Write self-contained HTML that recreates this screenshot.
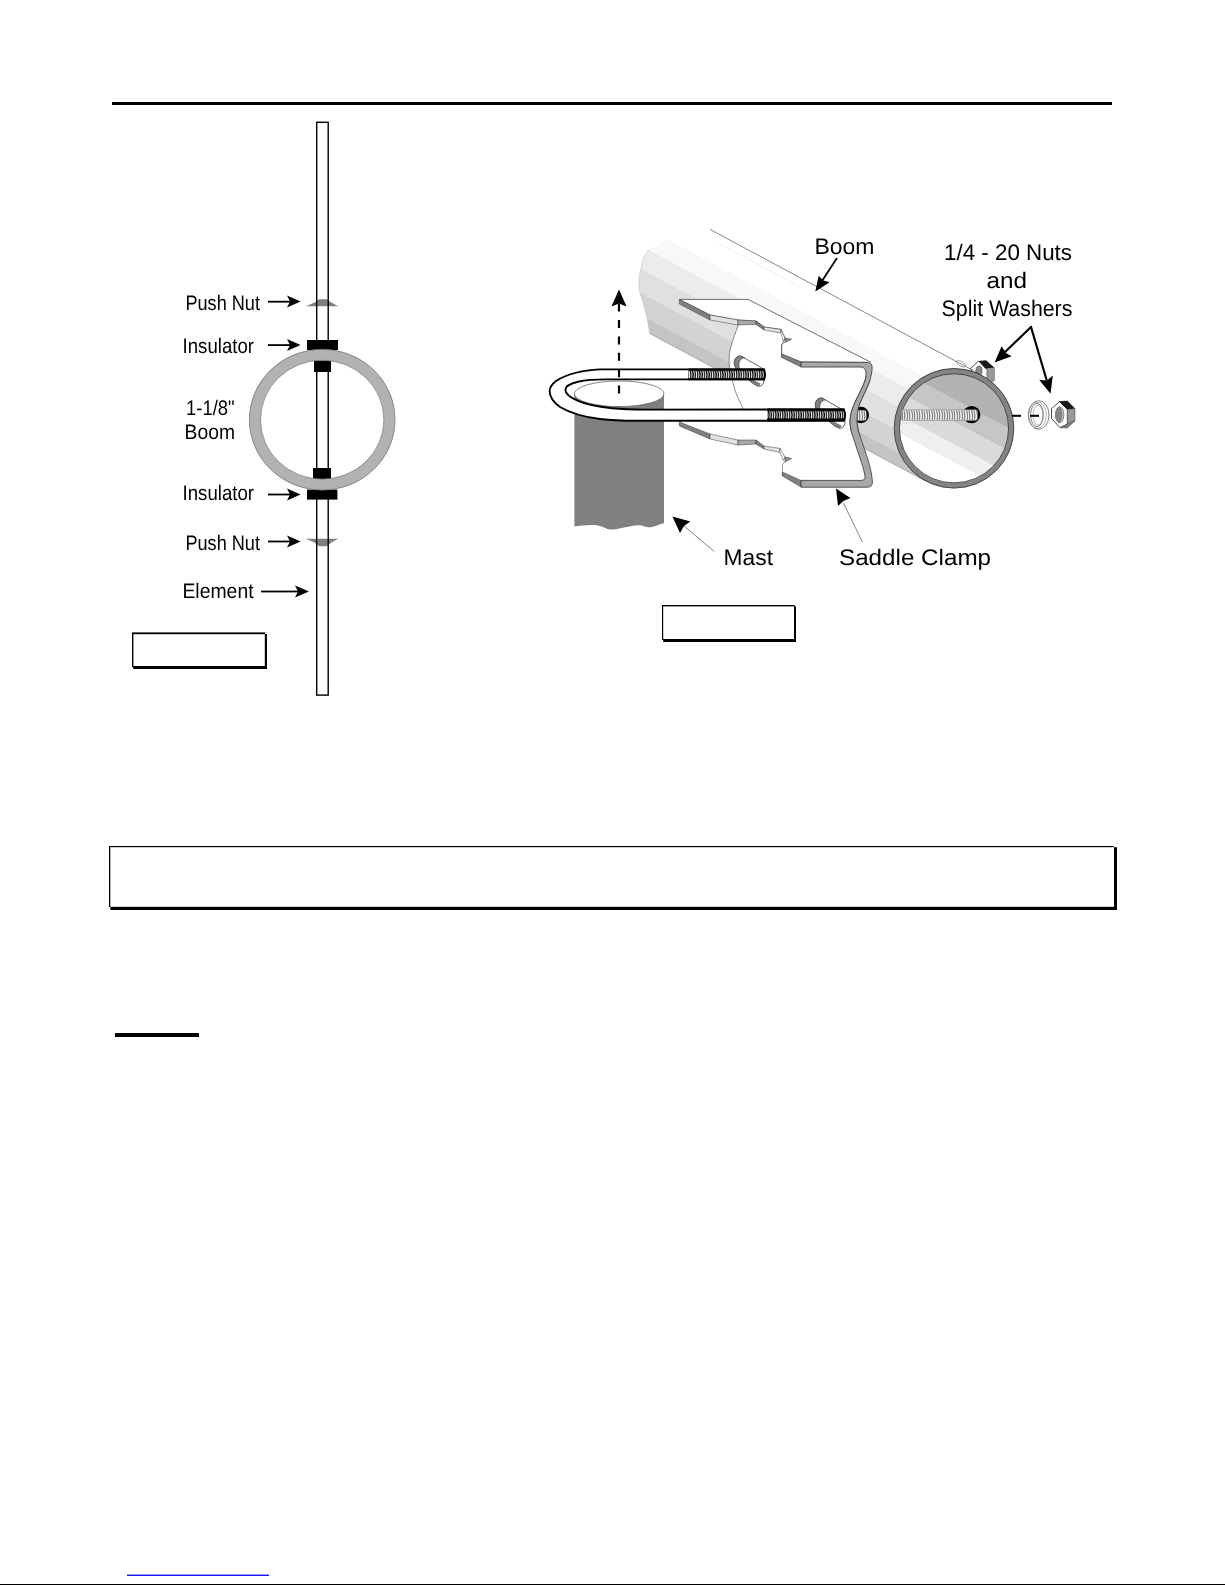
<!DOCTYPE html>
<html>
<head>
<meta charset="utf-8">
<title>Assembly</title>
<style>
html,body{margin:0;padding:0;background:#fff;}
body{width:1225px;height:1585px;position:relative;overflow:hidden;font-family:"Liberation Sans",sans-serif;}
svg{position:absolute;left:0;top:0;}
text{font-family:"Liberation Sans",sans-serif;fill:#000;text-rendering:geometricPrecision;filter:grayscale(1);}
</style>
</head>
<body>
<svg width="1225" height="1585" viewBox="0 0 1225 1585">
<defs>
<!--DEFS-BEGIN-->
<linearGradient id="boomgrad" gradientUnits="userSpaceOnUse" x1="925.7" y1="481.2" x2="982.3" y2="375.4">
<stop offset="0" stop-color="#c4c4c4"/><stop offset="0.1" stop-color="#c4c4c4"/>
<stop offset="0.1" stop-color="#d3d3d3"/><stop offset="0.263" stop-color="#d3d3d3"/>
<stop offset="0.263" stop-color="#e0e0e0"/><stop offset="0.44" stop-color="#e0e0e0"/>
<stop offset="0.44" stop-color="#ececec"/><stop offset="0.61" stop-color="#ececec"/>
<stop offset="0.61" stop-color="#f8f8f8"/><stop offset="0.7625" stop-color="#f8f8f8"/>
<stop offset="0.7625" stop-color="#ffffff"/><stop offset="1" stop-color="#ffffff"/>
</linearGradient>
<linearGradient id="ingrad" gradientUnits="userSpaceOnUse" x1="925.7" y1="481.2" x2="982.3" y2="375.4">
<stop offset="0" stop-color="#ffffff"/><stop offset="0.25" stop-color="#ffffff"/>
<stop offset="0.25" stop-color="#efefef"/><stop offset="0.383" stop-color="#efefef"/>
<stop offset="0.383" stop-color="#dadada"/><stop offset="0.55" stop-color="#dadada"/>
<stop offset="0.55" stop-color="#c6c6c6"/><stop offset="0.716" stop-color="#c6c6c6"/>
<stop offset="0.716" stop-color="#b2b2b2"/><stop offset="1" stop-color="#b2b2b2"/>
</linearGradient>
<pattern id="dthread" patternUnits="userSpaceOnUse" x="688.4" y="369.4" width="2.3" height="40.2">
<rect width="2.3" height="40.2" fill="#000"/>
<path d="M0.5,1.4 Q2.1,5 0.8,8.8" stroke="#fff" stroke-width="1" fill="none"/>
<path d="M0.5,41.6 Q2.1,45.6 0.8,49.8" stroke="#fff" stroke-width="1" fill="none"/>
</pattern>
<pattern id="lthread" patternUnits="userSpaceOnUse" x="901" y="409.6" width="2.5" height="100">
<rect width="2.5" height="100" fill="#fff"/>
<path d="M0.4,0.4 Q2.2,5.4 0.9,10.6" stroke="#555" stroke-width="1" fill="none"/>
</pattern>
<!--DEFS-END-->
</defs>
<!-- page rules -->
<rect x="112" y="102" width="1000" height="3" fill="#000"/>
<rect x="115" y="1033" width="84" height="4" fill="#000"/>
<rect x="127" y="1574.6" width="142" height="1.3" fill="#0000ff"/>
<rect x="0" y="1584" width="1225" height="1" fill="#000"/>
<!-- note box -->
<rect x="109" y="846" width="1008" height="64" fill="#000"/>
<rect x="110.3" y="847.2" width="1003.7" height="59.6" fill="#fff"/>
<rect x="1114" y="846" width="3" height="1.2" fill="#fff"/>
<rect x="109" y="907" width="1.3" height="3" fill="#fff"/>
<!-- figure boxes -->
<rect x="132" y="632.4" width="135" height="36.6" fill="#000"/>
<rect x="133.4" y="634.2" width="131.4" height="31.8" fill="#fff"/>
<rect x="265" y="632.4" width="2" height="1.6" fill="#fff"/>
<rect x="132" y="667" width="1.2" height="2" fill="#fff"/>
<rect x="662" y="605" width="134" height="37" fill="#000"/>
<rect x="663.2" y="606.4" width="130.8" height="32.6" fill="#fff"/>
<rect x="794.6" y="605" width="1.4" height="1.4" fill="#fff"/>
<rect x="662" y="640" width="1.2" height="2" fill="#fff"/>
<!--LEFT-BEGIN-->
<g id="leftfig">
<!-- push nuts -->
<path d="M305.6,306.2 L310,304.6 Q315.5,302.6 319,299.2 L327,299.2 Q330.5,302.6 335,304.6 L338.4,306.2 Z" fill="#808080"/>
<path d="M305.6,538.8 L310,540.4 Q315.5,542.4 319,546.2 L327,546.2 Q330.5,542.4 335,540.4 L338.4,538.8 Z" fill="#808080"/>
<!-- rod -->
<rect x="316.7" y="122.3" width="11.5" height="572.8" fill="none" stroke="#000" stroke-width="1.4"/>
<!-- insulators -->
<rect x="307" y="340" width="31" height="10" fill="#000"/>
<rect x="314" y="360.4" width="17" height="11.6" fill="#000"/>
<rect x="313" y="468" width="18" height="11.6" fill="#000"/>
<rect x="307" y="489.6" width="30.4" height="10" fill="#000"/>
<!-- ring -->
<ellipse cx="322.2" cy="419.7" rx="67.25" ry="64.9" fill="none" stroke="#b2b2b2" stroke-width="11.2"/>
<ellipse cx="322.2" cy="419.7" rx="72.8" ry="70.3" fill="none" stroke="#707070" stroke-width="0.7"/>
<ellipse cx="322.2" cy="419.7" rx="61.7" ry="59.5" fill="none" stroke="#707070" stroke-width="0.7"/>
<!-- arrows -->
<g fill="#000" stroke="none">
<path id="ah" d="M300.6,301.6 L287,295.6 L290,301.6 L287,307.6 Z"/>
<rect x="268" y="300.8" width="22" height="1.8"/>
<path d="M300.6,345 L287,339 L290,345 L287,351 Z"/>
<rect x="268" y="344.2" width="22" height="1.8"/>
<path d="M300.6,494.4 L287,488.4 L290,494.4 L287,500.4 Z"/>
<rect x="268" y="493.6" width="22" height="1.8"/>
<path d="M300.6,541.4 L287,535.4 L290,541.4 L287,547.4 Z"/>
<rect x="268" y="540.6" width="22" height="1.8"/>
<path d="M309,591.4 L295,585.4 L298,591.4 L295,597.4 Z"/>
<rect x="261" y="590.6" width="37" height="1.8"/>
</g>
<!-- labels -->
<g font-size="21">
<text x="185.4" y="310" textLength="74.6" lengthAdjust="spacingAndGlyphs">Push Nut</text>
<text x="182.6" y="352.6" textLength="71.4" lengthAdjust="spacingAndGlyphs">Insulator</text>
<text x="186" y="415" textLength="48.6" lengthAdjust="spacingAndGlyphs">1-1/8"</text>
<text x="184.6" y="439" textLength="50.4" lengthAdjust="spacingAndGlyphs">Boom</text>
<text x="182.6" y="499.6" textLength="71.4" lengthAdjust="spacingAndGlyphs">Insulator</text>
<text x="185.4" y="550" textLength="74.6" lengthAdjust="spacingAndGlyphs">Push Nut</text>
<text x="182.4" y="598" textLength="71.2" lengthAdjust="spacingAndGlyphs">Element</text>
</g>
</g>
<!--LEFT-END-->
<!--RIGHT-BEGIN-->
<g id="rightfig">
<!-- back nut (behind boom) -->
<g id="backnut">
<path d="M970.7,368.3 L978.7,361 L985.4,368.3 L987.2,368.5 L987.2,380 L975,380 Z" fill="#fff" stroke="#000" stroke-width="0.7"/>
<path d="M978.7,361 L986,360.3 L994.6,367.7 L987.2,368.5 L985.4,368.3 Z" fill="#1a1a1a"/>
<path d="M987.2,368.5 L994.6,367.7 L994.6,380.5 L991.5,382.4 L987.2,380 Z" fill="#999" stroke="#555" stroke-width="0.4"/>
<ellipse cx="979" cy="370.6" rx="3.1" ry="4.6" fill="#8c8c8c" stroke="#333" stroke-width="0.5"/>
<ellipse cx="961" cy="363.8" rx="5.2" ry="2.2" fill="#fff" stroke="#777" stroke-width="0.6" transform="rotate(28 961 363.8)"/>
</g>
<!-- boom body -->
<path id="boombody" d="M667,239 L970,401 L954,488 L925.7,481.2 L649.6,333.5 C649,326 646,312 642,299 C638,289 638,280 641,269 C643,259 645,254 649,250 Z" fill="url(#boomgrad)"/>
<path d="M649.6,333.5 L925.7,481.2" stroke="#8a8a8a" stroke-width="0.6" fill="none"/>
<path d="M710,229.4 L982.3,375.4" stroke="#555" stroke-width="0.7" fill="none"/>
<path d="M718,243 L800,287" stroke="#e4e4e4" stroke-width="0.6" fill="none"/>
<path d="M649,250 C645,254 643,259 641,269 C638,280 638,289 642,299 C646,312 649,326 649.6,333.5" stroke="#bdbdbd" stroke-width="0.6" fill="none"/>
<!-- clamp white body -->
<path d="M679.4,299.4 L748,299.4 L871,362.4 C872,372 868,384 864,394 C860,404 857,412 857,422 C857,428 858,431 860,436 L868,460 C870,466 872,474 872,478 L872,487 L801,487 L782.4,476 L782.4,465 L785,457 L780,452.4 L764,449 L756,444 L738,445 L710,439 L679.4,426 L679.4,422 L743,409 C741,403 739,400 738,398 C734,390 732,386 732,378 C729,370 729,364 729,358 C730,350 731,346 733,340 C735,334 737,329 738,325 L710,320 L679.4,304 Z" fill="#fff"/>
<!-- clamp V-bottom thin line -->
<path d="M738,325 C737,329 735,334 733,340 C731,346 729.6,350 729,358 C729,366 730,372 732,378 C733.5,386 735,391 738,398 C740,402 742,406 743,409" fill="none" stroke="#444" stroke-width="0.6"/>
<!-- top flange face outline -->
<path d="M679.4,299.4 L748,299.4 L871,362.4" fill="none" stroke="#333" stroke-width="0.7"/>
<path d="M679.4,299.4 L710,315 L738,320 L756,321 L764,327 L781,329.4 L785,338 L781.6,345 L781.6,354 L801,362 L866,362.4" fill="none" stroke="#333" stroke-width="0.6"/>
<!-- upper profile thickness -->
<g stroke="#333" stroke-width="0.5">
<path d="M679.4,299.4 L710,315 L710,320 L679.4,304 Z" fill="#808080"/>
<path d="M710,315 L738,320 L738,325 L710,320 Z" fill="#e2e2e2"/>
<path d="M738,320 L756,321 L756,324.4 L738,325 Z" fill="#a8a8a8"/>
<path d="M756,321 L764,327 L764,330 L756,324.4 Z" fill="#808080"/>
<path d="M764,327 L781,329.4 L781,333 L764,330 Z" fill="#e2e2e2"/>
<path d="M781,329.4 L785,338 L783.4,341.6 L781,333 Z" fill="#fff"/>
<path d="M785,338 L791.6,339.2 L785,342.4 Z" fill="#909090"/>
<path d="M785,342 L781.6,345 L781.6,357.4" fill="none"/>
<path d="M781.6,354 L801,362 L801,367 L781.6,357.4 Z" fill="#808080"/>
</g>
<!-- lower profile thickness -->
<g stroke="#333" stroke-width="0.5">
<path d="M679.4,422 L710,434 L710,439 L679.4,426 Z" fill="#808080"/>
<path d="M710,434 L738,440 L738,445 L710,439 Z" fill="#e2e2e2"/>
<path d="M738,440 L756,440 L756,444 L738,445 Z" fill="#a8a8a8"/>
<path d="M756,440 L764,446 L764,449 L756,444 Z" fill="#808080"/>
<path d="M764,446 L780,448.4 L780,452.4 L764,449 Z" fill="#e2e2e2"/>
<path d="M780,448.4 L785,457 L783.4,460.6 L780,452.4 Z" fill="#fff"/>
<path d="M785,457 L791.6,458.6 L785,462 Z" fill="#909090"/>
<path d="M785,461.6 L782.4,465 L782.4,476" fill="none"/>
<path d="M782.4,472 L801,480.4 L801,487 L782.4,476 Z" fill="#808080"/>
</g>
<!-- saddle web band -->
<path d="M801,362 L866,362.4 Q871.6,362.4 872,366 C872.6,370 871,376 870,380 C868,386 866,390 864,394 C861,401 858.6,405 858,410 C857,415 857,418 857,422 C857.4,428 858.6,432 860,436 C863,445 866,453 868,460 C870,467 871.4,472 872,478 L872.4,482 Q872.4,487.2 867,487.2 L801,487.2 L801,480.4 L861,480.4 Q865.6,480.4 865,476 C864,470 862,464 860,458 C857,449 854,440 852,434 C850.6,429 850,425 850,420 C850.4,416 851,413 852,410 C854,404 857,398 860,392 C863,386 865.4,381 866,376 Q866.6,367.2 861,367 L801,367 Z" fill="#a8a8a8" stroke="#444" stroke-width="0.9"/>
<!-- slots -->
<g id="slot1">
<path d="M741,356 C737,355.6 733.6,359 734.4,364 C735,367 736,369 738.4,371 L750,381 C753,383.6 756,385.6 758.6,386.2 C761,386.6 763,385 763.8,382 L764.6,370.4 L762.6,368.4 Z" fill="#fff" stroke="#222" stroke-width="0.7"/>
<path d="M741,356 C737,355.6 733.6,359 734.4,364 C735,367 736,369 738.4,371 L741,371.4 C738.6,367.4 738.2,363.6 740,360.8 C741,359.2 742.6,358.2 744.6,357.8 Z" fill="#808080" stroke="#222" stroke-width="0.4"/>
<path d="M744.4,376.2 L750,381 C753,383.6 756,385.6 758.6,386.2 L760.4,383.8 C757,382.6 753,380 750.4,377.6 L746.6,374.4 Z" fill="#808080" stroke="#222" stroke-width="0.3"/>
</g>
<g id="slot2" transform="translate(81,42)">
<path d="M741,356 C737,355.6 733.6,359 734.4,364 C735,367 736,369 738.4,371 L750,381 C753,383.6 756,385.6 758.6,386.2 C761,386.6 763,385 763.8,382 L764.6,370.4 L762.6,368.4 Z" fill="#fff" stroke="#222" stroke-width="0.7"/>
<path d="M741,356 C737,355.6 733.6,359 734.4,364 C735,367 736,369 738.4,371 L741,371.4 C738.6,367.4 738.2,363.6 740,360.8 C741,359.2 742.6,358.2 744.6,357.8 Z" fill="#808080" stroke="#222" stroke-width="0.4"/>
<path d="M744.4,376.2 L750,381 C753,383.6 756,385.6 758.6,386.2 L760.4,383.8 C757,382.6 753,380 750.4,377.6 L746.6,374.4 Z" fill="#808080" stroke="#222" stroke-width="0.3"/>
</g>
<!-- near boom hole -->
<ellipse cx="861" cy="415" rx="8" ry="8.2" fill="#000"/>
<rect x="856" y="410.2" width="10.4" height="10.2" rx="2" fill="url(#lthread)"/>
<path d="M866,376 C865.4,381 863,386 860,392 C857,398 854,404 852,410 C851,413 850.4,416 850,420 C850,425 850.6,429 852,434 L860,436 C858.6,432 857.4,428 857,422 C857,418 857,415 858,410 C858.6,405 861,401 864,394 C866,390 868,386 870,380 Z" fill="#a8a8a8"/>
<path d="M870,380 C868,386 866,390 864,394 C861,401 858.6,405 858,410 C857,415 857,418 857,422 C857.4,428 858.6,432 860,436" fill="none" stroke="#444" stroke-width="0.9"/>
<path d="M866,376 C865.4,381 863,386 860,392 C857,398 854,404 852,410 C851,413 850.4,416 850,420 C850,425 850.6,429 852,434" fill="none" stroke="#444" stroke-width="0.9"/>
<!-- boom front -->
<circle cx="954" cy="428.3" r="57.2" fill="url(#ingrad)" stroke="#848484" stroke-width="5.2"/>
<circle cx="954" cy="428.3" r="59.8" fill="none" stroke="#3c3c3c" stroke-width="0.9"/>
<circle cx="954" cy="428.3" r="54.6" fill="none" stroke="#3c3c3c" stroke-width="0.9"/>
<!-- far hole and inner thread -->
<ellipse cx="971.6" cy="414.7" rx="8.8" ry="8.6" fill="#000"/>
<rect x="901.4" y="409.8" width="76.2" height="10.6" rx="2" fill="url(#lthread)" stroke="#777" stroke-width="0.6"/>
<!-- mast -->
<path d="M574.4,393.6 L574.4,526.4 C580,526 590,524.4 598,525.4 C604,526.4 606,529.6 612,529.4 C620,529 630,525.6 638,525.2 C644,525 646,528 652,527 C657,526 660,523.6 664,523.2 L664,393.6 Z" fill="#808080"/>
<ellipse cx="619.2" cy="393.8" rx="44.8" ry="12.8" fill="#fff" stroke="#555" stroke-width="0.7"/>
<!-- U bolt -->
<path id="ubolt" d="M764,369.4 L600,369.4 C580,370.4 566,374.6 556,381 C551,385 549.6,388 549.6,391 C549.6,397 554,402.6 560,407 C572,414 588,417.6 600,419 C612,420.4 624,420.8 636,420.8 L844,420.6 L844,409.4 L644,409.6 C632,409.6 622,409.2 612,408.2 C598,406.6 586,404.4 578,400.8 C570,397.4 565.4,393.6 565.4,390 C565.4,386.6 570,383.6 578,381.8 C586,380 596,379.4 606,379.4 L764,379.4 Z" fill="#fff" stroke="#000" stroke-width="1.9" stroke-linejoin="round"/>
<!-- threads -->
<rect x="688.4" y="369.4" width="76" height="10" fill="url(#dthread)"/>
<path d="M688.4,369.4 L764,369.4 C765.4,372 765.4,377 764,379.4 L688.4,379.4" fill="none" stroke="#000" stroke-width="1.9"/>
<rect x="767" y="409.6" width="77.4" height="11" fill="url(#dthread)"/>
<path d="M767,409.5 L843.6,409.5 C845.4,412 845.4,418 843.6,420.6 L767,420.6" fill="none" stroke="#000" stroke-width="1.9"/>
<!-- dashed arrow -->
<path d="M619,289.4 L626.6,306.4 L619,303.4 L611.4,306.4 Z" fill="#000"/>
<path d="M619,393.6 L619,303" stroke="#000" stroke-width="2.2" stroke-dasharray="8 8.4" fill="none"/>
<!-- dash line to washer -->
<rect x="1012" y="414.8" width="9" height="2" fill="#000"/>
<!-- washer -->
<ellipse cx="1038.7" cy="415" rx="10.3" ry="14.3" fill="#fff" stroke="#333" stroke-width="0.6"/>
<ellipse cx="1037.4" cy="415.2" rx="9" ry="13.2" fill="none" stroke="#666" stroke-width="0.5"/>
<ellipse cx="1037" cy="415" rx="6.4" ry="11.6" fill="#fff" stroke="#333" stroke-width="0.6"/>
<ellipse cx="1038" cy="415.2" rx="4.9" ry="10" fill="none" stroke="#777" stroke-width="0.5"/>
<rect x="1030" y="414.8" width="9" height="2" fill="#000"/>
<!-- front nut -->
<g id="frontnut">
<path d="M1059.5,401.6 L1067.4,409.3 L1067.4,424 L1060.1,427.7 L1051.5,418.5 L1051.5,408.7 Z" fill="#fff" stroke="#000" stroke-width="0.7"/>
<path d="M1059.5,401.6 L1067.4,401.1 L1075,408.7 L1067.4,409.3 Z" fill="#1a1a1a" stroke="#000" stroke-width="0.5"/>
<path d="M1067.4,409.3 L1075,408.7 L1075,420.7 L1067.4,424 Z" fill="#9a9a9a" stroke="#444" stroke-width="0.5"/>
<path d="M1067.4,424 L1075,420.7 L1067.4,428 L1060.1,427.7 Z" fill="#808080" stroke="#444" stroke-width="0.5"/>
<ellipse cx="1059.6" cy="414.8" rx="4.2" ry="8" fill="#fff" stroke="#222" stroke-width="0.6"/>
<ellipse cx="1059.1" cy="414.8" rx="3.6" ry="7.7" fill="#858585"/>
</g>
<!-- label arrows -->
<g fill="#000">
<path d="M837,258 L822,281" stroke="#000" stroke-width="1.8" fill="none"/>
<path d="M815.3,291.4 L818.7,275.8 L823.4,280.6 L829.6,282.3 Z"/>
<path d="M1031,327 L1004,353" stroke="#000" stroke-width="2.2" fill="none" stroke-linecap="round"/>
<path d="M994.6,362.5 L1001.6,346.2 L1006.2,353.2 L1011.7,356.3 Z"/>
<path d="M1031,327 L1046.6,380" stroke="#000" stroke-width="2.2" fill="none" stroke-linecap="round"/>
<path d="M1050.5,393.7 L1039.3,379.9 L1047,380.6 L1052.8,375.6 Z"/>
<path d="M714.4,551.6 L684,526" stroke="#333" stroke-width="0.6" fill="none"/>
<path d="M672.4,516.4 L690.4,521.6 L684,526 L680,533 Z"/>
<path d="M862.4,542 L843.4,503" stroke="#333" stroke-width="0.6" fill="none"/>
<path d="M836,488.4 L850.4,498 L843.4,501 L838,506 Z"/>
</g>
<!-- labels -->
<g font-size="22.5">
<text x="814.5" y="254.3" textLength="60" lengthAdjust="spacingAndGlyphs">Boom</text>
<text x="944" y="259.6" textLength="128" lengthAdjust="spacingAndGlyphs">1/4 - 20 Nuts</text>
<text x="986.4" y="287.5" textLength="40.5" lengthAdjust="spacingAndGlyphs">and</text>
<text x="941.6" y="315.6" textLength="130.8" lengthAdjust="spacingAndGlyphs">Split Washers</text>
<text x="723.6" y="565.4" textLength="49.4" lengthAdjust="spacingAndGlyphs">Mast</text>
<text x="839" y="565" textLength="152" lengthAdjust="spacingAndGlyphs">Saddle Clamp</text>
</g>
</g>
<!--RIGHT-END-->
</svg>
</body>
</html>
